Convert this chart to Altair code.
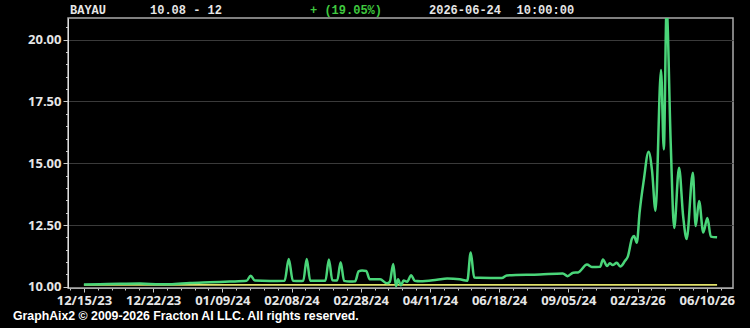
import json
import altair as alt
import pandas as pd

# ---- header / footer text ----
symbol = "BAYAU"
range_text = "10.08 - 12"
change_text = "+ (19.05%)"
date_text = "2026-06-24"
time_text = "10:00:00"
footer_text = "GraphAix2 © 2009-2026 Fracton AI LLC. All rights reserved."

# ---- axis labels ----
x_labels = ["12/15/23", "12/22/23", "01/09/24", "02/08/24", "02/28/24",
            "04/11/24", "06/18/24", "09/05/24", "02/23/26", "06/10/26"]
y_major = [10, 12.5, 15, 17.5, 20]

# ---- series (session index, price) ----
session = [0, 2.3, 5.2, 8.1, 11.0, 12.4, 15.3, 18.2, 21.1, 23.5, 24.1, 24.7,
           26.9, 29.0, 29.6, 30.2, 31.2, 31.7, 32.2, 32.7, 34.1, 34.9, 35.4,
           35.9, 36.6, 37.1, 37.6, 38.4, 39.2, 39.7, 40.2, 40.8, 41.3, 42.8,
           43.8, 44.2, 44.7, 45.1, 45.4, 45.8, 46.2, 46.7, 47.3, 47.8, 48.6,
           51.0, 52.5, 54.3, 55.4, 55.9, 56.4, 57.2, 60.4, 61.1, 65.9, 69.2,
           69.9, 70.7, 71.4, 72.7, 73.4, 74.6, 75.0, 75.6, 76.0, 76.4, 77.0,
           77.5, 78.2, 78.6, 79.2, 79.5, 79.9, 80.3, 80.9, 81.6, 82.1, 82.6,
           83.4, 83.8, 84.2, 84.8, 85.3, 86.0, 86.6, 87.1, 88.0, 88.4, 88.9,
           89.5, 90.1, 90.6, 91.5]
price = [10.09, 10.10, 10.12, 10.13, 10.10, 10.10, 10.15, 10.18, 10.21, 10.24,
         10.45, 10.25, 10.23, 10.24, 11.12, 10.24, 10.23, 10.24, 11.12, 10.24,
         10.24, 10.24, 11.10, 10.26, 10.25, 10.99, 10.24, 10.21, 10.22, 10.62,
         10.66, 10.64, 10.30, 10.30, 10.14, 10.20, 10.92, 10.02, 10.30, 10.06,
         10.25, 10.20, 10.47, 10.24, 10.22, 10.28, 10.33, 10.30, 10.24, 11.39,
         10.37, 10.36, 10.35, 10.46, 10.50, 10.54, 10.43, 10.57, 10.58, 10.90,
         10.80, 10.81, 11.10, 10.84, 10.95, 10.88, 10.97, 10.82, 11.05, 11.22,
         11.95, 12.05, 11.78, 13.0, 14.3, 15.47, 14.7, 13.08, 18.78, 15.56,
         21.3, 15.8, 12.38, 14.82, 12.84, 11.93, 14.62, 12.46, 13.47, 12.2,
         12.78, 12.03, 12.0]
base_price = 10.08

series = pd.DataFrame({"t": session, "p": price})
base = pd.DataFrame({"t0": [session[0]], "t1": [session[-1]], "p": [base_price]})

x_ticks = list(range(-2, 93, 2))
y_ticks = [10 + 0.5 * i for i in range(22)]

x_label_expr = ("datum.value % 10 === 0 && datum.value >= 0 ? "
                + json.dumps(x_labels) + "[datum.value / 10] : ''")
y_label_expr = "datum.value % 2.5 === 0 ? format(datum.value, '.2f') : ''"

x_scale = alt.Scale(domain=[-2.3, 93.8], nice=False, zero=False)
y_scale = alt.Scale(domain=[9.95, 20.88], nice=False, zero=False)

x_axis = alt.Axis(
    values=x_ticks, labelExpr=x_label_expr, title=None, grid=False,
    labelFont="Open Sans", labelFontWeight="bold", labelFontSize=13,
    labelColor="#e6e6e6", labelPadding=2, labelOverlap=False, labelFlush=False,
    tickColor="#cccccc", domainColor="#aaaaaa",
    tickSize={"condition": {"test": "datum.value % 10 === 0", "value": 4}, "value": 2},
)
y_axis = alt.Axis(
    values=y_ticks, labelExpr=y_label_expr, title=None, grid=True,
    gridColor="#3a3a3a", gridWidth=1,
    gridOpacity={"condition": {"test": "datum.value % 2.5 === 0 && datum.value > 10", "value": 1}, "value": 0},
    labelFont="Open Sans", labelFontWeight="bold", labelFontSize=13,
    labelColor="#e6e6e6", labelPadding=2, labelOverlap=False,
    tickColor="#cccccc", domainColor="#dddddd",
    tickSize={"condition": {"test": "datum.value % 2.5 === 0", "value": 5}, "value": 2.5},
)

ref = alt.Chart(base).mark_rule(color="#e0e06a", strokeWidth=1.8).encode(
    x=alt.X("t0:Q", scale=x_scale, axis=x_axis),
    x2="t1:Q",
    y=alt.Y("p:Q", scale=y_scale, axis=y_axis),
)

line = alt.Chart(series).mark_line(
    color="#4ad579", strokeWidth=2.5, interpolate="monotone", clip=True
).encode(
    x=alt.X("t:Q", scale=x_scale, axis=x_axis),
    y=alt.Y("p:Q", scale=y_scale, axis=y_axis),
)

one = pd.DataFrame({"k": [0]})


def label(text, x, y, color, font, size):
    return alt.Chart(one).mark_text(
        text=text, align="left", baseline="alphabetic", font=font,
        fontSize=size, fontWeight="bold", color=color
    ).encode(x=alt.value(x), y=alt.value(y))


mono = "Liberation Mono"
texts = [
    label(symbol, 2, -4, "#e6e6e6", mono, 12),
    label(range_text, 82, -4, "#e6e6e6", mono, 12),
    label(change_text, 242, -4, "#3fc83f", mono, 12),
    label(date_text, 361, -4, "#e6e6e6", mono, 12),
    label(time_text, 448.5, -4, "#e6e6e6", mono, 12),
    label(footer_text, -55, 302, "#ffffff", "Liberation Sans", 12.3),
]

chart = alt.layer(ref, line, *texts).properties(
    width=665, height=270,
    autosize=alt.AutoSizeParams(type="none"),
    padding={"left": 68, "top": 18, "right": 17, "bottom": 40},
    background="#000000",
).configure_view(stroke="#aaaaaa", strokeWidth=1.5)

chart.save("out.html", embed_options={"renderer": "svg", "actions": False})
